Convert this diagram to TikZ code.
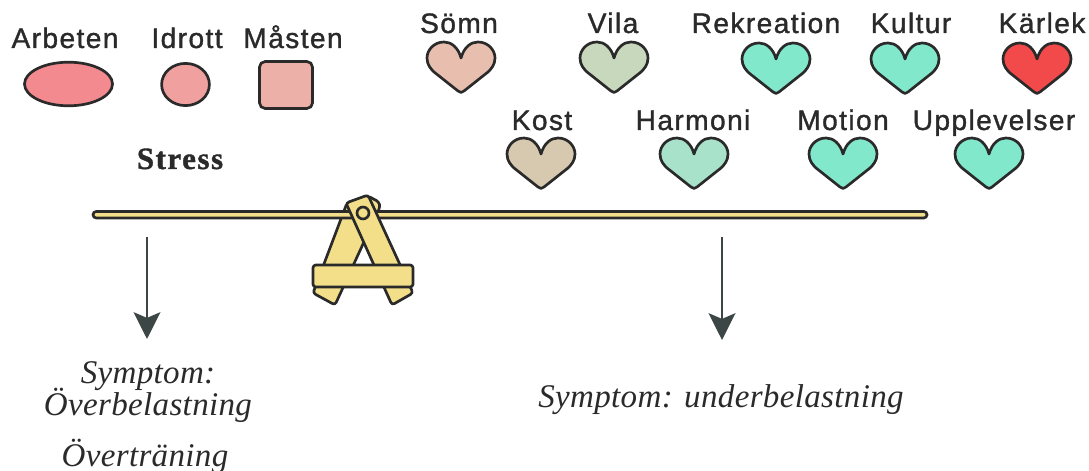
\documentclass[tikz,border=0pt]{standalone}
\usepackage{fontspec}
\setmainfont{Liberation Sans}[LetterSpace=5, FakeBold=1.2]
\newfontfamily\serifbold{Liberation Serif}[LetterSpace=5, FakeBold=1.2]
\newfontfamily\serifslant{Liberation Serif}[LetterSpace=1]
\usetikzlibrary{arrows.meta, calc, shapes.geometric}
\definecolor{inkdark}{HTML}{2A2A2A}
\definecolor{beamyellow}{HTML}{F3DE8A}
\definecolor{stressred}{HTML}{F28A90}
\definecolor{stresspink}{HTML}{EFA09F}
\definecolor{stresssand}{HTML}{EDB0A8}
\definecolor{heartsomn}{HTML}{E8BFAF}
\definecolor{heartvila}{HTML}{C8D8BC}
\definecolor{heartkost}{HTML}{D6C9AF}
\definecolor{heartharmoni}{HTML}{A8E2CA}
\definecolor{heartmint}{HTML}{82E8CC}
\definecolor{heartred}{HTML}{F24A4A}
\definecolor{arrowgray}{HTML}{3C4644}
\tikzset{
  lbl/.style={anchor=base, inner sep=0pt, text=inkdark, font=\fontsize{20}{20}\selectfont},
  slant/.style={anchor=base, inner sep=0pt, text=inkdark, font=\fontsize{23.5}{24}\serifslant\itshape},
  part/.style={draw=inkdark, line width=1.9pt, line join=round, rounded corners=2pt},
  shapeline/.style={draw=inkdark, line width=1.9pt, inner sep=0pt},
  downarrow/.style={draw=arrowgray, line width=2.1pt, -{Stealth[length=19pt, width=19pt, inset=4pt]}},
  heartpic/.pic={
    \draw[draw=inkdark, line width=1.9pt, line join=round, fill=#1] (0,16)
      .. controls (3,5) and (10,0) .. (17,0)
      .. controls (27,0) and (34,8) .. (34,16)
      .. controls (34,23) and (30,27) .. (27,30)
      -- (3,49) .. controls (1,51) and (-1,51) .. (-3,49)
      -- (-27,30)
      .. controls (-30,27) and (-34,23) .. (-34,16)
      .. controls (-34,8) and (-27,0) .. (-17,0)
      .. controls (-10,0) and (-3,5) .. (0,16) -- cycle;
  }
}
\begin{document}
\begin{tikzpicture}[x=0.025cm, y=-0.025cm]
  \useasboundingbox (0,0) rectangle (1089,471);
  % stress shapes
  \node[lbl] (arbeten) at (65,48) {Arbeten};
  \node[lbl] (idrott) at (187,48) {Idrott};
  \node[lbl] (masten) at (293,48) {Måsten};
  \node[shapeline, fill=stressred, ellipse, minimum width=62.6pt, minimum height=31pt] (ovalA) at (68.5,84) {};
  \node[shapeline, fill=stresspink, ellipse, minimum width=34pt, minimum height=30pt] (ovalB) at (185.5,84.5) {};
  \node[shapeline, fill=stresssand, rounded corners=4pt, minimum width=37.7pt, minimum height=33.4pt] (boxC) at (286,85) {};
  \node[anchor=base, inner sep=0pt, text=inkdark, font=\fontsize{22}{24}\serifbold\bfseries] (stress) at (180,169) {Stress};
  % the hearts, label first
  \foreach \nm/\txt/\tx/\ty/\hx/\hy/\col in {
    somn/Sömn/459/33/461/42/heartsomn,
    vila/Vila/613/33/614/42/heartvila,
    rekr/Rekreation/766/33/776/43/heartmint,
    kult/Kultur/911/33/905/43/heartmint,
    karl/Kärlek/1042/33/1037/43/heartred,
    kost/Kost/542/130/541/138/heartkost,
    harm/Harmoni/693/130/694/138/heartharmoni,
    moti/Motion/843/130/843/138/heartmint,
    uppl/Upplevelser/994/130/989/138/heartmint}{
    \node[lbl] (\nm) at (\tx,\ty) {\txt};
    \pic at (\hx,\hy) {heartpic=\col};
  }
  % back leg, beam, front leg, cross bar
  \draw[part, fill=beamyellow] (379,202) -- (368,196) -- (347,203) -- (313,293) -- (335,305) -- (380,207) -- cycle;
  \draw[draw=inkdark, line width=1.9pt, fill=beamyellow, rounded corners=2.3pt] (93,211.5) rectangle (927,218);
  \draw[part, fill=beamyellow] (346,203) -- (368,195) -- (413,293) -- (392,305) -- cycle;
  \draw[part, fill=beamyellow] (313,265) rectangle (413,287);
  \node[circle, draw=inkdark, line width=1.9pt, fill=beamyellow, minimum size=8.5pt, inner sep=0pt] (pivot) at (363,213) {};
  % what follows from each side
  \coordinate (leftTop) at (147,237);
  \coordinate (leftEnd) at (147,339);
  \coordinate (rightTop) at (722,237);
  \coordinate (rightEnd) at (722,340);
  \draw[downarrow] (leftTop) -- (leftEnd);
  \draw[downarrow] (rightTop) -- (rightEnd);
  \node[slant] (sympA) at (148,383) {Symptom:};
  \node[slant] (overA) at (148,415) {Överbelastning};
  \node[slant] (overB) at (145,466) {Överträning};
  \node[slant] (sympB) at (721,407) {Symptom: underbelastning};
\end{tikzpicture}
\end{document}
